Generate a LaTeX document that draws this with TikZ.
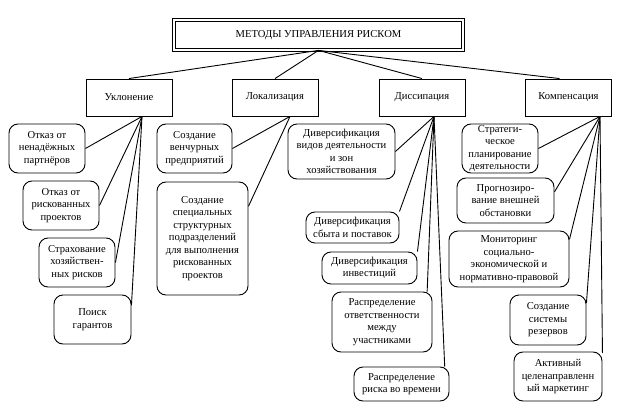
\documentclass[tikz,border=0pt]{standalone}
\usepackage{fontspec}
\setmainfont{Liberation Serif}

\begin{document}
\begin{tikzpicture}[x=1pt,y=-1pt,line width=0.9pt,
                    every node/.style={font=\rmfamily\fontsize{10.6}{12.5}\selectfont,align=center,inner sep=1pt},
                    head/.style={draw,double,double distance=2.6pt,line width=0.8pt,minimum width=289pt,minimum height=30pt},
                    method/.style={draw,minimum width=86pt,minimum height=37pt},
                    leaf/.style={draw,rounded corners=9pt}]
  \useasboundingbox (0,0) rectangle (637,417);

  \node[head] (top) at (318.5,35) {МЕТОДЫ УПРАВЛЕНИЯ РИСКОМ};

  \node[method] (ukl)  at (129,97.5)   {Уклонение};
  \node[method] (lok)  at (275,97.5)   {Локализация};
  \node[method] (dis)  at (422,97.5)   {Диссипация};
  \node[method] (komp) at (568.5,97.5) {Компенсация};

  % hubs under the method boxes
  \coordinate (uklH)  at ([xshift=13pt]ukl.south);
  \coordinate (lokH)  at ([xshift=15pt]lok.south);
  \coordinate (disH)  at ([xshift=12pt]dis.south);
  \coordinate (kompH) at ([xshift=31.5pt]komp.south);

  % avoidance
  \node[leaf,minimum width=76pt,minimum height=49pt] (u1) at (47,148.5)   {Отказ от\\ненадёжных\\партнёров};
  \node[leaf,minimum width=76pt,minimum height=49pt] (u2) at (61,205.5)   {Отказ от\\рискованных\\проектов};
  \node[leaf,minimum width=76pt,minimum height=49pt] (u3) at (77,262.5)   {Страхование\\хозяйствен-\\ных рисков};
  \node[leaf,minimum width=77pt,minimum height=49pt] (u4) at (92.5,319.5) {Поиск\\гарантов};

  % localisation
  \node[leaf,minimum width=75pt,minimum height=49pt]  (l1) at (194.5,148.5) {Создание\\венчурных\\предприятий};
  \node[leaf,minimum width=91pt,minimum height=113pt] (l2) at (202.5,238.5) {Создание\\специальных\\структурных\\подразделений\\для выполнения\\рискованных\\проектов};

  % dissipation
  \node[leaf,minimum width=107pt,minimum height=55pt] (d1) at (341.5,151.5) {Диверсификация\\видов деятельности\\и зон\\хозяйствования};
  \node[leaf,minimum width=93pt,minimum height=31pt]  (d2) at (352.5,227.5) {Диверсификация\\сбыта и поставок};
  \node[leaf,minimum width=95pt,minimum height=32pt]  (d3) at (369.5,268)   {Диверсификация\\инвестиций};
  \node[leaf,minimum width=100pt,minimum height=60pt] (d4) at (382,322)     {Распределение\\ответственности\\между\\участниками};
  \node[leaf,minimum width=95pt,minimum height=34pt]  (d5) at (401.5,384)   {Распределение\\риска во времени};

  % compensation
  \node[leaf,minimum width=76pt,minimum height=49pt]  (k1) at (500,148.5) {Стратеги-\\ческое\\планирование\\деятельности};
  \node[leaf,minimum width=97pt,minimum height=45pt]  (k2) at (505.5,200.5) {Прогнозиро-\\вание внешней\\обстановки};
  \node[leaf,minimum width=120pt,minimum height=56pt] (k3) at (509,259)   {Мониторинг\\социально-\\экономической и\\нормативно-правовой};
  \node[leaf,minimum width=76pt,minimum height=50pt]  (k4) at (548,320)   {Создание\\системы\\резервов};
  \node[leaf,minimum width=88pt,minimum height=49pt]  (k5) at (558,376.5) {Активный\\целенаправленн\\ый маркетинг};

  \path (top.south) edge (ukl.north) edge (lok.north) edge (dis.north) edge ([xshift=-9pt]komp.north);
  \path (uklH) edge (u1.east) edge (u2.east) edge (u3.east) edge (u4.20);
  \path (lokH) edge (l1.east) edge (l2.35);
  \path (disH) edge (d1.east) edge (d2.north east) edge (d3.north east) edge (d4.34) edge (d5.22);
  \path (kompH) edge (k1.east) edge (k2.10) edge (k3.18) edge (k4.24) edge (k5.28);
\end{tikzpicture}
\end{document}
